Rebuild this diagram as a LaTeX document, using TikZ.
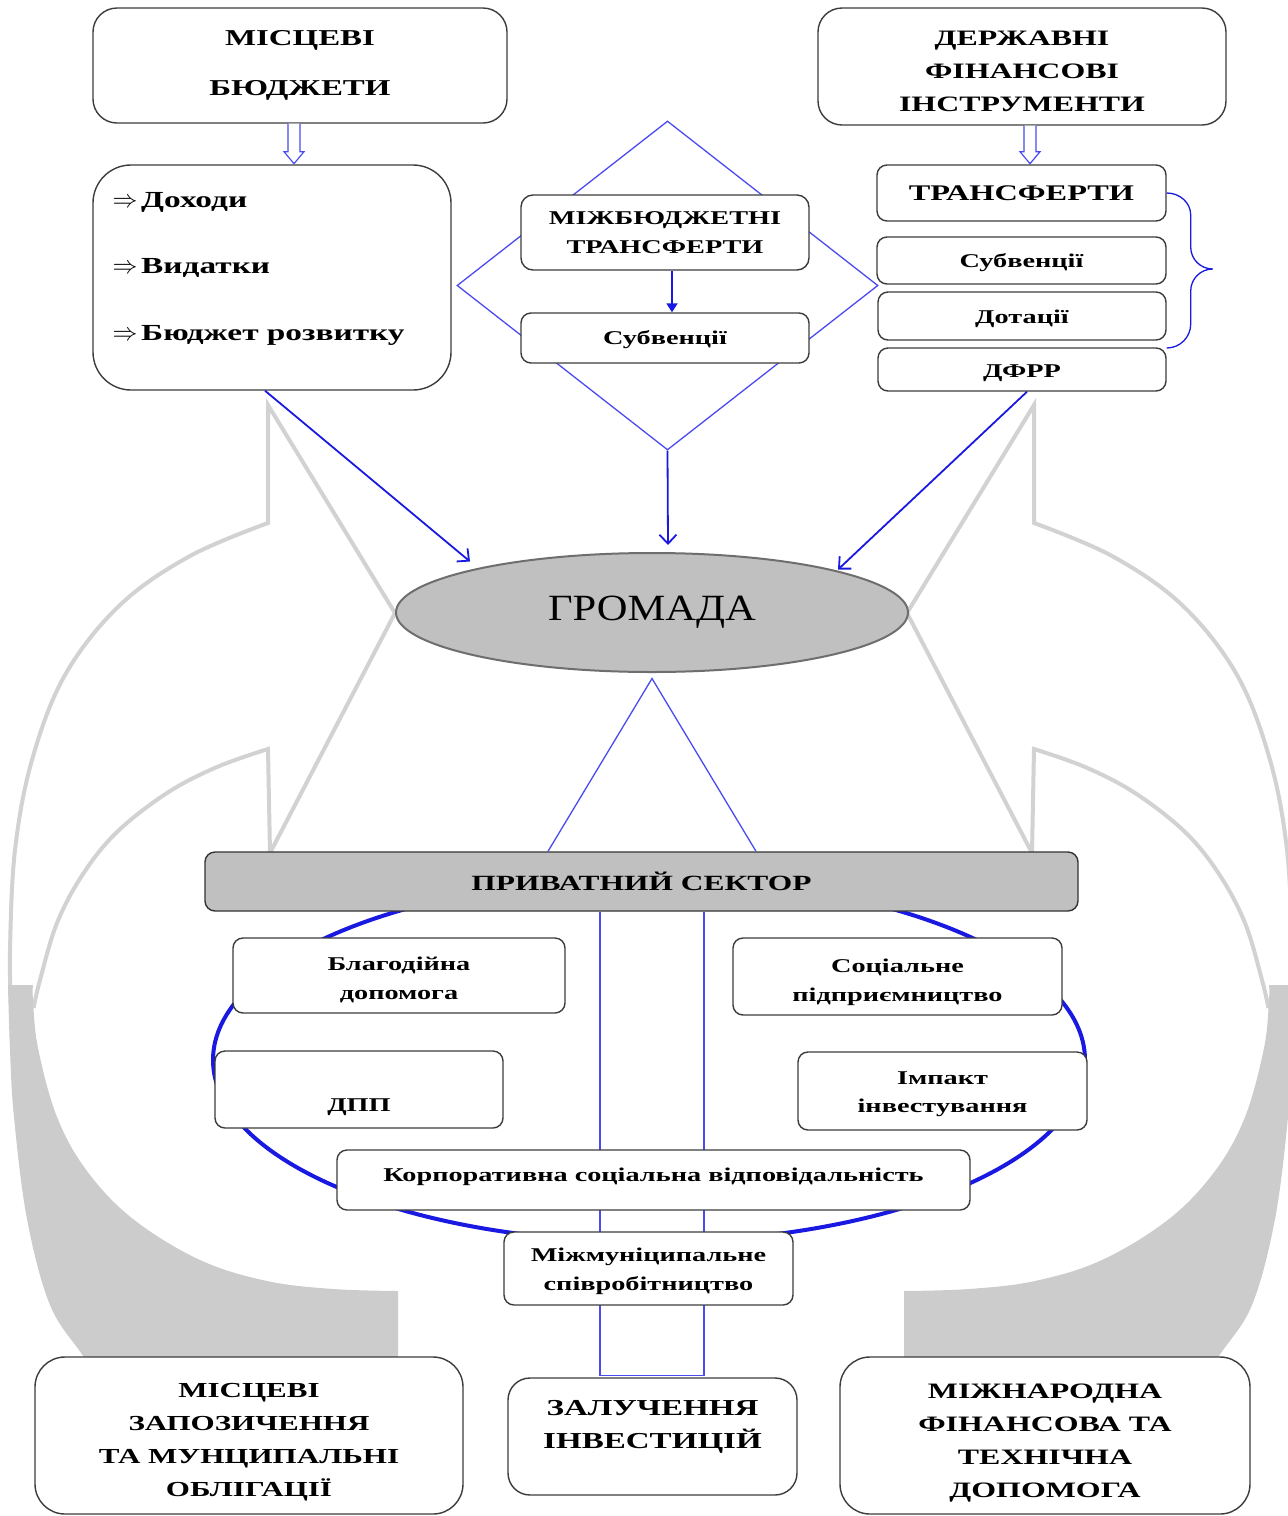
\documentclass[tikz,border=0pt]{standalone}
\usepackage{fontspec}
\newfontfamily\wf{Liberation Serif}[FakeStretch=1.45]
\newfontfamily\gf{Liberation Serif}[FakeStretch=1.15]
\usetikzlibrary{arrows.meta,shapes.geometric,calc}
\definecolor{bl}{RGB}{25,25,225}
\definecolor{bll}{RGB}{75,75,240}
\definecolor{bord}{RGB}{60,60,60}
\definecolor{garc}{RGB}{210,210,210}
\definecolor{gfill}{RGB}{204,204,204}
\definecolor{psfill}{RGB}{192,192,192}
\definecolor{gromdraw}{RGB}{110,110,110}
\newcommand\fsz[2]{\fontsize{#1}{#2}\selectfont}
\newcommand\up[1]{\rule{0pt}{#1pt}}
\newcommand\dn[1]{\rule[-#1pt]{0pt}{0pt}}
\begin{document}
\begin{tikzpicture}[x=1pt,y=-1pt,
  box/.style={draw=bord, line width=1.4pt, fill=white, rounded corners=10pt, inner sep=0pt, align=center},
  bigbox/.style={box, rounded corners=24pt},
  t20/.style={font=\wf\bfseries\fsz{19.5}{28.5}},
  conn/.style={draw=bl, line width=1.8pt, -{Straight Barb[length=9pt,width=17pt]}},
  thinblue/.style={draw=bll, line width=1.3pt},
  hollow/.style={draw=bll, line width=1.2pt, fill=white, line join=miter},
  grayarrow/.pic={
    \filldraw[fill=white, draw=garc, line width=4pt, line join=miter]
      plot[smooth, tension=0.6] coordinates {(11,1002) (10,950) (15,850) (32,760) (65,675) (120,605) (190,556) (268,523)}
      -- (268,405) -- (395,613) -- (270,853) -- (268,749)
      -- plot[smooth, tension=0.6] coordinates {(268,749) (217,767) (167,793) (117,832) (83,874) (57,923) (40,980) (34,1006)}
      -- cycle;
    \fill[gfill]
      plot[smooth, tension=0.6] coordinates {(8,985) (10,1050) (14,1117) (27,1219) (50,1305) (83,1356) (110,1400)}
      -- (398,1400) -- (398,1291)
      -- plot[smooth, tension=0.6] coordinates {(398,1291) (333,1289) (267,1281) (200,1260) (133,1219) (87,1171) (57,1117) (38,1048) (33,1000) (33,985)}
      -- cycle;
  }
]
\useasboundingbox (0,0) rectangle (1288,1516);
\fill[white] (0,0) rectangle (1288,1516);

% decorative curved arrows
\pic at (0,0) {grayarrow};
\pic[xscale=-1] at (1302,0) {grayarrow};

% diamond and blue ellipse
\node[diamond, thinblue, minimum width=421pt, minimum height=329pt, inner sep=0pt] (diam) at (667.5,285.5) {};
\draw[bl, line width=4pt] (649,1060) ellipse [x radius=436pt, y radius=182pt];

% upper nodes
\node[bigbox, minimum width=414pt, minimum height=115pt, font=\wf\bfseries\fsz{22.7}{50}] (mb) at (300,65.5) {МІСЦЕВІ\\БЮДЖЕТИ};
\node[bigbox, minimum width=408pt, minimum height=117pt, font=\wf\bfseries\fsz{22}{33}] (dfi) at (1022,66.5) {\up{25}ДЕРЖАВНІ\\ФІНАНСОВІ\\ІНСТРУМЕНТИ};
\node[box, rounded corners=38pt, minimum width=358pt, minimum height=225pt] (doh) at (272,277.5) {};
\node[anchor=west, align=left, inner sep=0pt, font=\wf\bfseries\fsz{23}{66.5}] (dohtext) at ($(doh.west)+(20,-9)$)
  {{\fsz{24}{24}$\Rightarrow$}\,Доходи\\{\fsz{24}{24}$\Rightarrow$}\,Видатки\\{\fsz{24}{24}$\Rightarrow$}\,Бюджет розвитку};
\node[box, rounded corners=12pt, minimum width=288pt, minimum height=75pt, t20] (mbt) at (665,232.5) {МІЖБЮДЖЕТНІ\\ТРАНСФЕРТИ};
\node[box, minimum width=288pt, minimum height=50pt, t20] (msub) at (665,338) {\up{17}Субвенції};
\node[box, minimum width=289pt, minimum height=56pt, font=\wf\bfseries\fsz{22.3}{30}] (tr) at (1021.5,193) {ТРАНСФЕРТИ};
\node[box, minimum width=289pt, minimum height=47pt, t20] (rsub) at (1021.5,260.5) {\up{19}Субвенції};
\node[box, minimum width=288pt, minimum height=48pt, t20] (dot) at (1022,316) {\up{19}Дотації};
\node[box, minimum width=288pt, minimum height=43pt, t20] (dfrr) at (1022,369.5) {\up{21}ДФРР};
\node[ellipse, draw=gromdraw, fill=psfill, line width=2pt, minimum width=512pt, minimum height=119pt, inner sep=0pt, font=\gf\fsz{37}{37}] (grom) at (652,612.5) {ГРОМАДА};
\node[box, fill=psfill, draw=black!80, minimum width=873pt, minimum height=59pt, font=\wf\bfseries\fsz{21.7}{30}] (ps) at (641.5,881.5) {ПРИВАТНИЙ СЕКТОР};

% connectors
\draw[hollow] ($(mb.south)+(-12,0)$) -- ++(0,28) -- ++(-4,0) -- ++(10,12) -- ++(10,-12) -- ++(-4,0) -- ++(0,-28);
\draw[hollow] ($(dfi.south)+(2,0)$) -- ++(0,26) -- ++(-4,0) -- ++(10,12) -- ++(10,-12) -- ++(-4,0) -- ++(0,-26);
\draw[bl, line width=1.3pt] (tr.east) to[out=0,in=90] ++(24,22) -- ++(0,32) to[out=-90,in=180] ++(22,22)
  to[out=180,in=90] ++(-22,22) -- ++(0,33) to[out=-90,in=0] ++(-24,24);
\draw[conn] ($(doh.south)+(-7,0)$) -- ($(grom.center)+(-182,-51)$);
\draw[conn] ($(dfrr.south)+(5,0)$) -- ($(grom.center)+(186,-43)$);
\draw[conn] (diam.south) -- ($(grom.north)+(16,-7)$);
\draw[bl, line width=1.8pt, -{Triangle[length=9pt,width=11pt]}] ($(mbt.south)+(7,0)$) -- ($(msub.north)+(7,0)$);
\draw[thinblue] ($(ps.north)+(-93.5,0)$) -- ($(grom.south)+(0,5.5)$) -- ($(ps.north)+(114.5,0)$);
\draw[draw=bll, line width=1.5pt] ($(ps.south)+(-41.5,0)$) -- ++(0,464) -- ++(104,0) -- ($(ps.south)+(62.5,0)$);

% lower nodes
\node[box, minimum width=332pt, minimum height=75pt, t20] (blag) at (399,975.5) {\up{22}Благодійна\\допомога};
\node[box, minimum width=329pt, minimum height=77pt, t20] (soc) at (897.5,976.5) {\up{25}Соціальне\\підприємництво};
\node[box, minimum width=288pt, minimum height=77pt, font=\wf\bfseries\fsz{19.5}{30}] (dpp) at (359,1089.5) {\up{18}\\ДПП};
\node[box, minimum width=289pt, minimum height=78pt, t20] (imp) at (942.5,1091) {\up{19}Імпакт\\інвестування};
\node[box, minimum width=633pt, minimum height=60pt, t20] (kor) at (653.5,1180) {Корпоративна соціальна відповідальність\dn{10}};
\node[box, minimum width=289pt, minimum height=73pt, t20] (mm) at (648.5,1268.5) {\up{19.5}Міжмуніципальне\\співробітництво};
\node[box, rounded corners=30pt, minimum width=428pt, minimum height=157pt, font=\wf\bfseries\fsz{21.4}{33}] (loan) at (249,1435.5) {\up{28}МІСЦЕВІ\\ЗАПОЗИЧЕННЯ\\ТА МУНЦИПАЛЬНІ\\ОБЛІГАЦІЇ};
\node[box, rounded corners=22pt, minimum width=289pt, minimum height=117pt, font=\wf\bfseries\fsz{22.8}{33}] (zal) at (652.5,1436.5) {\up{23}ЗАЛУЧЕННЯ\\ІНВЕСТИЦІЙ\\\mbox{}};
\node[box, rounded corners=30pt, minimum width=410pt, minimum height=157pt, font=\wf\bfseries\fsz{22}{33}] (intl) at (1045,1435.5) {\up{29}МІЖНАРОДНА\\ФІНАНСОВА ТА\\ТЕХНІЧНА\\ДОПОМОГА};
\end{tikzpicture}
\end{document}
